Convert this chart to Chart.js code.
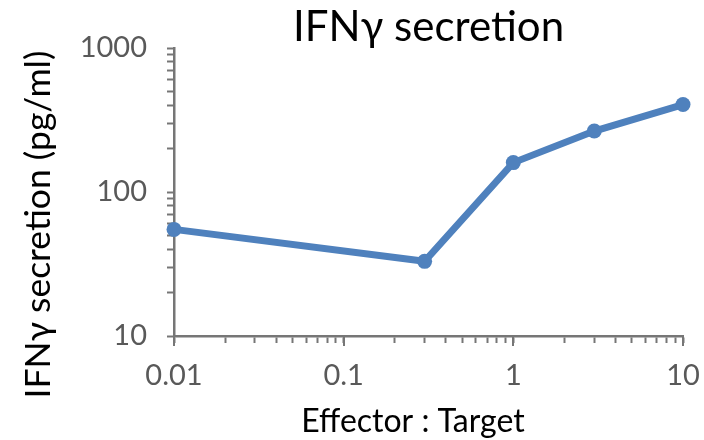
<!DOCTYPE html>
<html>
<head>
<meta charset="utf-8">
<script src="https://cdn.jsdelivr.net/npm/chart.js@4.4.1/dist/chart.umd.min.js"></script>
<style>
  html, body { margin: 0; padding: 0; background: #ffffff; }
  #wrap { width: 704px; height: 440px; }
</style>
</head>
<body>
<div id="wrap"><canvas id="chart" width="704" height="440"></canvas></div>
<script>
// Effector : Target ratios and measured IFNγ (pg/ml)
const ratios = [0.01, 0.3, 1, 3, 10];
const ifngPgMl = [55, 33, 160, 265, 405];

// Decade labels on the two log axes
const xTickLabels = ['0.01', '0.1', '1', '10'];
const yTickLabels = ['10', '100', '1000'];

const chartTitle = 'IFNγ secretion';
const xAxisTitle = 'Effector : Target';
const yAxisTitle = 'IFNγ secretion (pg/ml)';

const FONT = 'Lato, "Noto Sans", "DejaVu Sans", sans-serif';
const AXIS = '#767676';
const TICK_TEXT = '#595959';
const LINE = '#4f81bd';

// Decade ticks plus the 2..9 minor ticks between them
function logTickValues(labels) {
  const decades = labels.map(Number);
  const out = [];
  decades.forEach((d, i) => {
    out.push(d);
    if (i < decades.length - 1) {
      for (let m = 2; m <= 9; m++) out.push(+(d * m).toPrecision(4));
    }
  });
  return out;
}

function labelFor(labels) {
  return function (value, index, ticks) {
    const v = ticks[index].value;
    const hit = labels.find(l => Math.abs(Number(l) - v) < 1e-12);
    return hit === undefined ? '' : hit;
  };
}

// Axis titles and the longer decade ticks under the x axis
const extras = {
  id: 'extras',
  afterDraw(chart) {
    const { ctx, chartArea } = chart;
    const xs = chart.scales.x;
    ctx.save();
    ctx.strokeStyle = AXIS;
    ctx.lineWidth = 2;
    xTickLabels.forEach(l => {
      const px = Math.round(xs.getPixelForValue(Number(l)));
      ctx.beginPath();
      ctx.moveTo(px, chartArea.bottom);
      ctx.lineTo(px, chartArea.bottom + 10);
      ctx.stroke();
    });

    ctx.fillStyle = '#000000';
    ctx.font = '32px ' + FONT;
    ctx.textAlign = 'center';
    ctx.textBaseline = 'alphabetic';
    ctx.fillText(xAxisTitle, 413, 432);

    ctx.font = '35.5px ' + FONT;
    ctx.translate(50, 224.5);
    ctx.rotate(-Math.PI / 2);
    ctx.fillText(yAxisTitle, 0, 0);
    ctx.restore();
  }
};

const xTicks = logTickValues(xTickLabels);
const yTicks = logTickValues(yTickLabels);

new Chart(document.getElementById('chart'), {
  type: 'line',
  data: {
    datasets: [{
      data: ratios.map((r, i) => ({ x: r, y: ifngPgMl[i] })),
      borderColor: LINE,
      backgroundColor: LINE,
      borderWidth: 7,
      pointRadius: 7.5,
      pointBorderWidth: 0,
      pointBackgroundColor: LINE,
      tension: 0,
      clip: false
    }]
  },
  options: {
    responsive: false,
    animation: false,
    devicePixelRatio: 1,
    layout: { padding: { left: 0, right: 21, top: 0, bottom: 0 } },
    plugins: {
      legend: { display: false },
      tooltip: { enabled: false },
      title: {
        display: true,
        text: chartTitle,
        fullSize: false,
        color: '#000000',
        font: { family: FONT, size: 42, weight: 'normal', lineHeight: 1 },
        padding: { top: 6, bottom: 0 }
      }
    },
    scales: {
      x: {
        type: 'logarithmic',
        min: 0.01,
        max: 10,
        afterBuildTicks: s => { s.ticks = xTicks.map(v => ({ value: v })); },
        afterFit: s => { s.height = 104; s.paddingLeft = 0; s.paddingRight = 0; },
        ticks: {
          autoSkip: false,
          maxRotation: 0,
          minRotation: 0,
          color: TICK_TEXT,
          font: { family: FONT, size: 29 },
          padding: 15,
          callback: labelFor(xTickLabels)
        },
        grid: {
          display: true,
          drawOnChartArea: false,
          drawTicks: true,
          tickLength: 7,
          tickWidth: 2,
          tickColor: AXIS
        },
        border: { display: true, color: AXIS, width: 2.5 }
      },
      y: {
        type: 'logarithmic',
        min: 10,
        max: 1000,
        afterBuildTicks: s => { s.ticks = yTicks.map(v => ({ value: v })); },
        afterFit: s => { s.width = 174; s.paddingTop = 0; s.paddingBottom = 0; },
        ticks: {
          autoSkip: false,
          color: TICK_TEXT,
          font: { family: FONT, size: 29 },
          padding: 20,
          callback: labelFor(yTickLabels)
        },
        grid: {
          display: true,
          drawOnChartArea: false,
          drawTicks: true,
          tickLength: 7,
          tickWidth: 2,
          tickColor: AXIS
        },
        border: { display: true, color: AXIS, width: 2.5 }
      }
    }
  },
  plugins: [extras]
});
</script>
</body>
</html>
